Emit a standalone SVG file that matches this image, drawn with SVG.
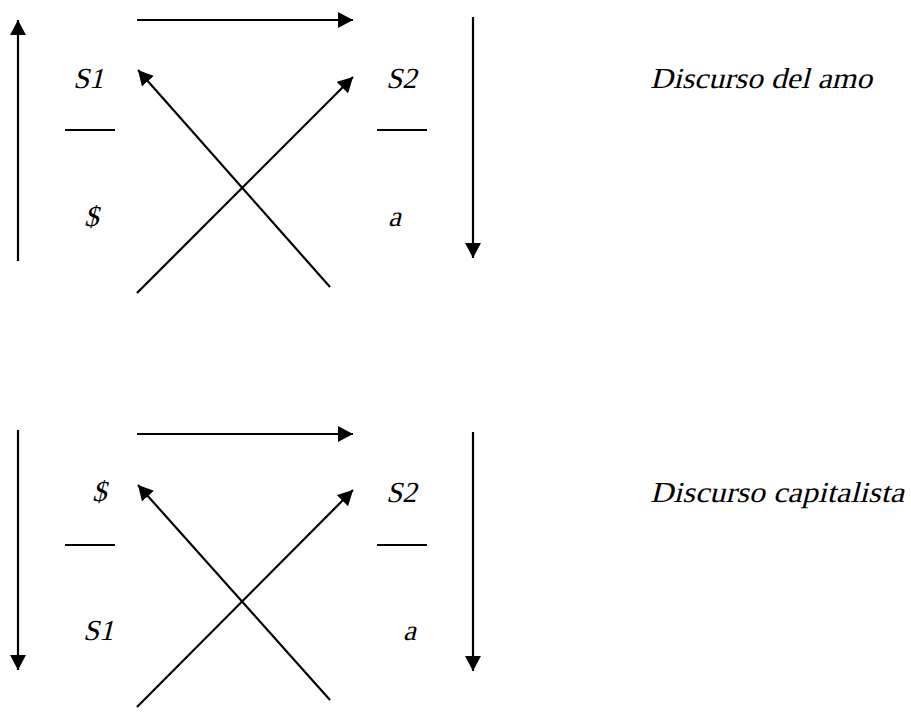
<svg xmlns="http://www.w3.org/2000/svg" width="911" height="719" viewBox="0 0 911 719">
<style>
.c{stroke:#000;stroke-width:2.2;fill:none}
.arr{marker-end:url(#ah)}
.t{font-family:"Liberation Serif","Times New Roman",serif;font-style:normal;font-size:29px;fill:#000}
</style>
<defs>
<marker id="ah" markerUnits="userSpaceOnUse" viewBox="0 0 15 16" markerWidth="15" markerHeight="16" refX="15" refY="8" orient="auto">
<path d="M0,0 L15,8 L0,16 z" fill="#000"/>
</marker>
</defs>
<rect width="911" height="719" fill="#fff"/>
<g id="amo">
<g id="amo-s1" transform="translate(73,88) skewX(-14)"><text class="t">S1</text></g>
<g id="amo-s2" transform="translate(386,88) skewX(-14)"><text class="t">S2</text></g>
<g id="amo-sbarred" transform="translate(84,226) skewX(-14)"><text class="t">$</text></g>
<g id="amo-a" transform="translate(388,226) skewX(-14)"><text class="t">a</text></g>
<g id="amo-title" transform="translate(650,88) skewX(-14)"><text class="t" textLength="222" lengthAdjust="spacingAndGlyphs">Discurso del amo</text></g>
</g>
<g id="cap">
<g id="cap-sbarred" transform="translate(92,501) skewX(-14)"><text class="t">$</text></g>
<g id="cap-s2" transform="translate(386,502) skewX(-14)"><text class="t">S2</text></g>
<g id="cap-s1" transform="translate(83,640) skewX(-14)"><text class="t">S1</text></g>
<g id="cap-a" transform="translate(403,640) skewX(-14)"><text class="t">a</text></g>
<g id="cap-title" transform="translate(650,502) skewX(-14)"><text class="t" textLength="254" lengthAdjust="spacingAndGlyphs">Discurso capitalista</text></g>
</g>
<g id="connectors">
<line class="c" x1="65" y1="130" x2="115" y2="130"/>
<line class="c" x1="377" y1="130" x2="427" y2="130"/>
<line class="c arr" x1="18" y1="261" x2="18" y2="20"/>
<line class="c arr" x1="137" y1="20" x2="353" y2="20"/>
<line class="c arr" x1="473" y1="17" x2="473" y2="258"/>
<line class="c arr" x1="137" y1="293" x2="353" y2="77"/>
<line class="c arr" x1="330" y1="287" x2="138" y2="70"/>
<line class="c" x1="65" y1="545" x2="115" y2="545"/>
<line class="c" x1="377" y1="545" x2="427" y2="545"/>
<line class="c arr" x1="18" y1="430" x2="18" y2="670"/>
<line class="c arr" x1="137" y1="434" x2="353" y2="434"/>
<line class="c arr" x1="473" y1="432" x2="473" y2="671"/>
<line class="c arr" x1="137" y1="707" x2="353" y2="490"/>
<line class="c arr" x1="330" y1="700" x2="138" y2="485"/>
</g>
</svg>
